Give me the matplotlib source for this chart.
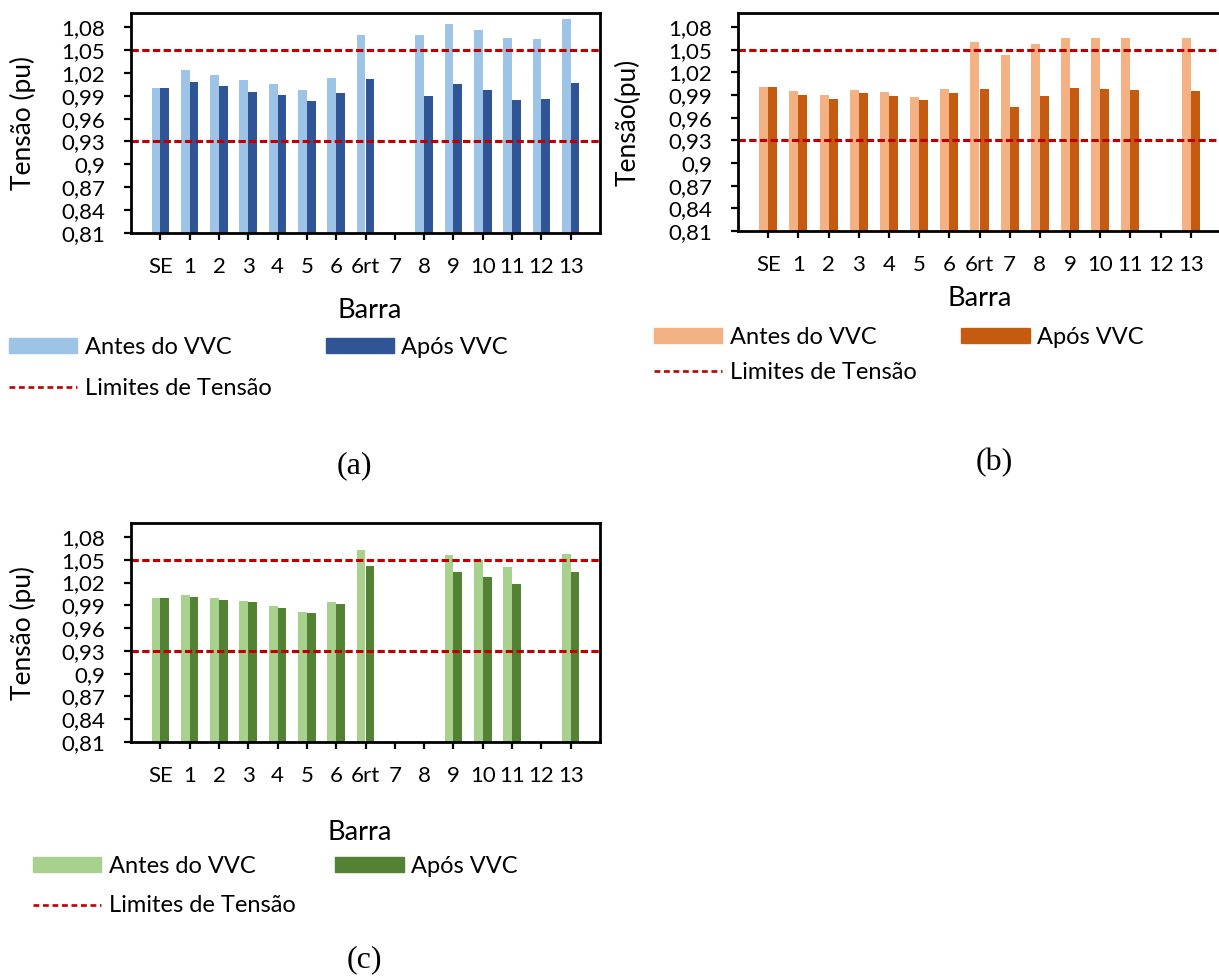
import numpy as np
import matplotlib
matplotlib.use("Agg")
import matplotlib.pyplot as plt
from matplotlib.patches import Patch
from matplotlib.lines import Line2D

plt.rcParams['font.family'] = ['Lato', 'DejaVu Sans']

barras = ["SE", "1", "2", "3", "4", "5", "6", "6rt", "7", "8", "9", "10", "11", "12", "13"]

# (a)
antes_a = [1.000, 1.0235, 1.017, 1.010, 1.0055, 0.998, 1.013, 1.070, 0.0, 1.070, 1.0845, 1.076, 1.0656, 1.0648, 1.091]
apos_a = [1.000, 1.0077, 1.0024, 0.995, 0.9905, 0.9835, 0.9936, 1.012, 0.0, 0.990, 1.0055, 0.997, 0.985, 0.9855, 1.0068]
# (b)
antes_b = [1.000, 0.995, 0.990, 0.997, 0.9936, 0.9874, 0.998, 1.060, 1.043, 1.057, 1.066, 1.066, 1.0657, np.nan, 1.0652]
apos_b = [1.000, 0.9896, 0.9848, 0.992, 0.9888, 0.983, 0.992, 0.9985, 0.9737, 0.989, 0.999, 0.998, 0.997, np.nan, 0.995]
# (c)
antes_c = [1.000, 1.004, 1.000, 0.9958, 0.9888, 0.9813, 0.9945, 1.063, 0.0, 0.0, 1.0564, 1.0503, 1.040, 0.0, 1.0577]
apos_c = [1.000, 1.0015, 0.9976, 0.9945, 0.987, 0.9795, 0.9918, 1.042, 0.0, 0.0, 1.034, 1.027, 1.018, 0.0, 1.0345]

limites = [0.93, 1.05]
yticks = [0.81, 0.84, 0.87, 0.90, 0.93, 0.96, 0.99, 1.02, 1.05, 1.08]
ytick_labels = ["0,81", "0,84", "0,87", "0,9", "0,93", "0,96", "0,99", "1,02", "1,05", "1,08"]

W, H = 1219, 976
fig = plt.figure(figsize=(W / 100, H / 100), dpi=100)
RED = "#C00000"


def px_axes(left, top, width, height):
    return fig.add_axes([left / W, 1 - (top + height) / H, width / W, height / H])


def panel(ax, antes, apos, c1, c2, ylabel, ylab_x, xlabel_pos, leg_pos, colsp, lsp, cap, cap_pos):
    x = np.arange(1, len(barras) + 1)
    w = 0.3
    ax.bar(x - w / 2, antes, w, color=c1, label="Antes do VVC")
    ax.bar(x + w / 2, apos, w, color=c2, label="Após VVC")
    for lim in limites:
        ax.axhline(lim, color=RED, lw=2.2, ls=(0, (2.4, 1.1)))
    ax.set_xlim(0, 16)
    ax.set_ylim(0.81, 1.0985)
    ax.set_xticks(x)
    ax.set_xticklabels(barras)
    ax.set_yticks(yticks)
    ax.set_yticklabels(ytick_labels)
    ax.tick_params(axis="both", labelsize=16, length=5, width=1.6, color="black")
    ax.tick_params(axis="x", pad=12.5)
    ax.tick_params(axis="y", pad=13.5)
    for s in ax.spines.values():
        s.set_linewidth(2.0)
        s.set_color("black")
    ax.set_ylabel(ylabel, fontsize=19)
    ax.yaxis.set_label_coords(ylab_x, 0.5)
    fig.text(xlabel_pos[0] / W, 1 - xlabel_pos[1] / H, "Barra", fontsize=19.5,
             ha="center", va="center")
    handles = [Patch(color=c1), Line2D([], [], color=RED, lw=1.9, ls=(0, (2.2, 1.4))), Patch(color=c2)]
    labels = ["Antes do VVC", "Limites de Tensão", "Após VVC"]
    fig.legend(handles, labels, ncol=2, frameon=False, fontsize=17,
               loc="upper left", bbox_to_anchor=(leg_pos[0] / W, 1 - leg_pos[1] / H),
               borderpad=0, borderaxespad=0, handlelength=2.9, handleheight=0.6,
               handletextpad=0.3, columnspacing=colsp, labelspacing=lsp)
    fig.text(cap_pos[0] / W, 1 - cap_pos[1] / H, cap, fontsize=23,
             family="Liberation Serif", ha="center", va="center")


ax_a = px_axes(131, 13, 469, 220)
panel(ax_a, antes_a, apos_a, "#9DC3E6", "#2F5597", "Tensão (pu)", -0.203,
      (370, 311), (9, 337), 2.31, 0.85, "(a)", (354, 466))

ax_b = px_axes(738, 13, 483, 218)
panel(ax_b, antes_b, apos_b, "#F4B183", "#C55A11", "Tensão(pu)", -0.201,
      (980, 298), (654, 327), 1.9, 0.6, "(b)", (994, 463))

ax_c = px_axes(131, 523, 469, 219)
panel(ax_c, antes_c, apos_c, "#A9D18E", "#548235", "Tensão (pu)", -0.203,
      (360, 833), (33, 856), 1.7, 0.78, "(c)", (364, 960))

fig.savefig("out.png", dpi=100)
